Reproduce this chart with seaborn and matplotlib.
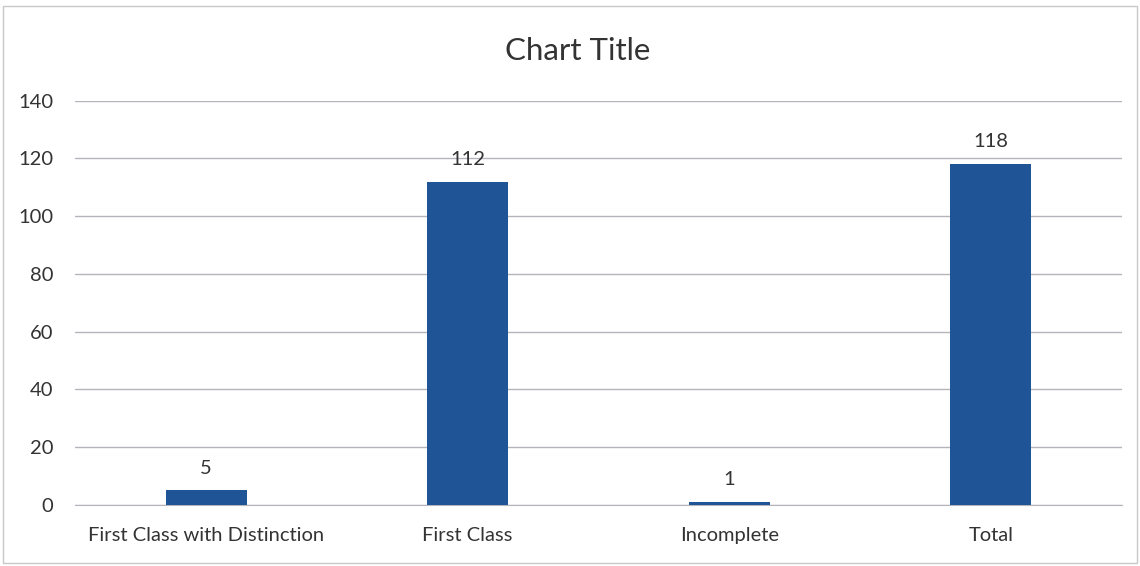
import matplotlib
matplotlib.use("Agg")
import matplotlib.pyplot as plt
import pandas as pd
import seaborn as sns

# ---------------- DATA ----------------
categories = ["First Class with Distinction", "First Class", "Incomplete", "Total"]
counts = [5, 112, 1, 118]
y_ticks = [0, 20, 40, 60, 80, 100, 120, 140]

BAR_COLOR = "#1F5597"
TEXT_COLOR = "#333333"
GRID_COLOR = "#b4b4bc"

df = pd.DataFrame({"Category": categories, "Count": counts})

sns.set_style("white")
plt.rcParams["font.family"] = ["Lato", "DejaVu Sans"]

fig = plt.figure(figsize=(11.4, 5.66), dpi=100)
ax = fig.add_axes([0.066, 0.108, 0.918, 0.714])

sns.barplot(data=df, x="Category", y="Count", color=BAR_COLOR,
            width=0.31, saturation=1, linewidth=0, ax=ax, zorder=3)

ax.set_ylim(0, 140)
ax.set_yticks(y_ticks)
ax.set_xlim(-0.5, len(categories) - 0.5)
ax.yaxis.grid(True, color=GRID_COLOR, linewidth=1, zorder=0)
ax.set_axisbelow(True)

for s in ["top", "right", "left"]:
    ax.spines[s].set_visible(False)
ax.spines["bottom"].set_color(GRID_COLOR)

ax.tick_params(axis="x", length=0, labelsize=14.5, colors=TEXT_COLOR, pad=16)
ax.tick_params(axis="y", length=0, labelsize=14.5, colors=TEXT_COLOR, pad=16)
ax.set_xlabel("")
ax.set_ylabel("")

for container in ax.containers:
    ax.bar_label(container, padding=10, fontsize=14.5, color=TEXT_COLOR)

fig.text(0.507, 0.91, "Chart Title", ha="center", va="center",
         fontsize=22.5, color=TEXT_COLOR)

# outer chart border
fig.patches.append(plt.Rectangle((0.003, 0.005), 0.994, 0.985, fill=False,
                                 edgecolor="#c8c8c8", linewidth=1,
                                 transform=fig.transFigure))

fig.savefig("out.png", dpi=100, facecolor="white")
